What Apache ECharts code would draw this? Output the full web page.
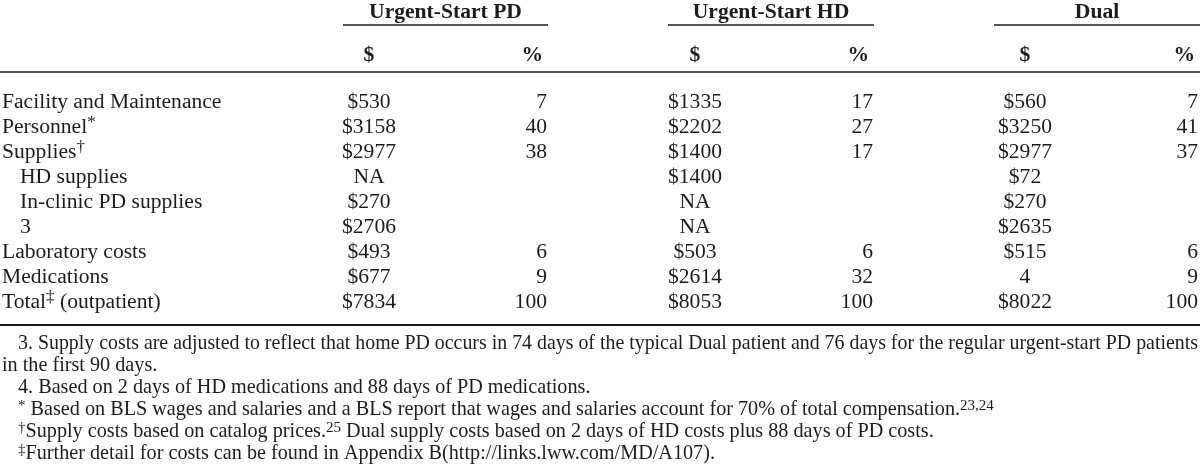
<!DOCTYPE html>
<html>
<head>
<meta charset="utf-8">
<script src="https://cdn.jsdelivr.net/npm/echarts@6/dist/echarts.min.js"></script>
<style>html,body{margin:0;padding:0;background:#fff}#c{width:1200px;height:471px}</style>
</head>
<body>
<div id="c"></div>
<script>
// ---------- data ----------
const groups = ['Urgent-Start PD', 'Urgent-Start HD', 'Dual'];
const subHeaders = ['$', '%'];
const rowLabels = ['Facility and Maintenance', 'Personnel', 'Supplies', 'HD supplies', 'In-clinic PD supplies', '3', 'Laboratory costs', 'Medications', 'Total'];
const rowMarks = ['', '*', '\u2020', '', '', '', '', '', '\u2021'];
const rowSuffix = ['', '', '', '', '', '', '', '', ' (outpatient)'];
const rowIndent = [0, 0, 0, 1, 1, 1, 0, 0, 0];
const pdCost = ['$530', '$3158', '$2977', 'NA', '$270', '$2706', '$493', '$677', '$7834'];
const pdPct = ['7', '40', '38', '', '', '', '6', '9', '100'];
const hdCost = ['$1335', '$2202', '$1400', '$1400', 'NA', 'NA', '$503', '$2614', '$8053'];
const hdPct = ['17', '27', '17', '', '', '', '6', '32', '100'];
const dualCost = ['$560', '$3250', '$2977', '$72', '$270', '$2635', '$515', '4', '$8022'];
const dualPct = ['7', '41', '37', '', '', '', '6', '9', '100'];
const footnotes = [
  '3. Supply costs are adjusted to reflect that home PD occurs in 74 days of the typical Dual patient and 76 days for the regular urgent-start PD patients',
  'in the first 90 days.',
  '4. Based on 2 days of HD medications and 88 days of PD medications.',
  '{fsup|*} Based on BLS wages and salaries and a BLS report that wages and salaries account for 70% of total compensation.{fsup|23,24}',
  '{fsup|\u2020}Supply costs based on catalog prices.{fsup|25} Dual supply costs based on 2 days of HD costs plus 88 days of PD costs.',
  '{fsup|\u2021}Further detail for costs can be found in Appendix B(http://links.lww.com/MD/A107).'
];
const footIndent = [1, 0, 1, 1, 1, 1];
const footJustify = [1, 0, 0, 0, 0, 0];

// ---------- layout / style ----------
const FONT = '"Liberation Serif", "Times New Roman", Times, serif';
const TXT = '#1e1b1c';
const FS = 21.6, FFS = 20.2;
const L = {
  labelX: 2, indent: 18,
  costX: [369, 695, 1025],
  pctX: [547, 873, 1198],
  pctHeadX: [543, 869, 1195],
  groupSpan: [[343, 548], [668, 874], [994, 1200]],
  groupY: 12, underlineY: 25, subY: 55, ruleTopY: 72,
  bodyTop: 89.5, rowH: 25,
  ruleBotY: 325,
  footY0: 344, footH: 22, footIndent: 18, footRight: 1198
};
const RICH = {
  sup: { fontSize: 17, fontFamily: FONT, fill: TXT, color: TXT, verticalAlign: 'top', lineHeight: 25 },
  fsup: { fontSize: 15, fontFamily: FONT, fill: TXT, color: TXT, verticalAlign: 'top', lineHeight: 23 }
};

const costCols = [pdCost, hdCost, dualCost];
const pctCols = [pdPct, hdPct, dualPct];
const cells = [];
rowLabels.forEach((lab, i) => {
  const txt = lab + (rowMarks[i] ? '{sup|' + rowMarks[i] + '}' : '') + rowSuffix[i];
  cells.push({ value: [L.labelX + rowIndent[i] * L.indent, i], text: txt, align: 'left' });
  for (let g = 0; g < 3; g++) {
    cells.push({ value: [L.costX[g], i], text: costCols[g][i], align: 'center' });
    if (pctCols[g][i] !== '') cells.push({ value: [L.pctX[g], i], text: pctCols[g][i], align: 'right' });
  }
});

// measure helper (for the justified first footnote line)
const mctx = document.createElement('canvas').getContext('2d');
function measure(str, size) { mctx.font = size + 'px ' + FONT; return mctx.measureText(str).width; }

const graphics = [];
function txtStyle(text, size, weight, align) {
  return { text: text, rich: RICH, fontFamily: FONT, fontSize: size, fontWeight: weight, fill: TXT,
    align: align, verticalAlign: 'middle', textAlign: align, textVerticalAlign: 'middle' };
}
groups.forEach((g, k) => {
  const [a, b] = L.groupSpan[k];
  graphics.push({ type: 'text', x: (a + b) / 2, y: L.groupY, style: txtStyle(g, FS, 'bold', 'center') });
  graphics.push({ type: 'line', shape: { x1: a, y1: L.underlineY, x2: b, y2: L.underlineY }, style: { stroke: TXT, lineWidth: 1.3 } });
  graphics.push({ type: 'text', x: L.costX[k], y: L.subY, style: txtStyle(subHeaders[0], FS, 'bold', 'center') });
  graphics.push({ type: 'text', x: L.pctHeadX[k], y: L.subY, style: txtStyle(subHeaders[1], FS, 'bold', 'right') });
});
graphics.push({ type: 'line', shape: { x1: 0, y1: L.ruleTopY, x2: 1200, y2: L.ruleTopY }, style: { stroke: TXT, lineWidth: 1.3 } });
graphics.push({ type: 'line', shape: { x1: 0, y1: L.ruleBotY, x2: 1200, y2: L.ruleBotY }, style: { stroke: TXT, lineWidth: 2 } });
footnotes.forEach((f, i) => {
  const x0 = footIndent[i] ? L.footIndent : L.labelX;
  let sx = 1;
  if (footJustify[i]) sx = (L.footRight - x0) / measure(f, FFS);
  graphics.push({ type: 'text', x: x0, y: L.footY0 + i * L.footH, scaleX: sx, style: txtStyle(f, FFS, 'normal', 'left') });
});

const chart = echarts.init(document.getElementById('c'), null, { renderer: 'canvas' });
chart.setOption({
  animation: false,
  backgroundColor: '#fff',
  grid: { left: 0, right: 0, top: L.bodyTop, height: L.rowH * rowLabels.length },
  xAxis: { type: 'value', min: 0, max: 1200, show: false },
  yAxis: { type: 'category', data: rowLabels, inverse: true, show: false },
  graphic: graphics,
  series: [{
    type: 'custom',
    coordinateSystem: 'cartesian2d',
    encode: { x: 0, y: 1 },
    data: cells,
    renderItem: function (params, api) {
      const d = cells[params.dataIndex];
      const p = api.coord([api.value(0), api.value(1)]);
      return { type: 'text', x: p[0], y: p[1], style: txtStyle(d.text, FS, 'normal', d.align) };
    }
  }]
});
</script>
</body>
</html>
